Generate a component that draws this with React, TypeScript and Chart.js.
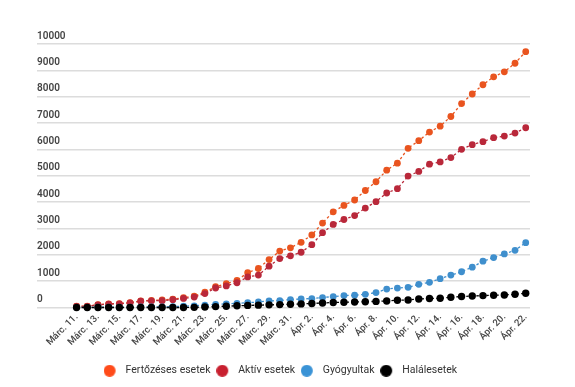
import React, { useEffect, useRef } from 'react';
import { Chart, registerables } from 'chart.js';

Chart.register(...registerables);

const dateLabels = [
  'Márc. 11.', 'Márc. 12.', 'Márc. 13.', 'Márc. 14.', 'Márc. 15.', 'Márc. 16.', 'Márc. 17.',
  'Márc. 18.', 'Márc. 19.', 'Márc. 20.', 'Márc. 21.', 'Márc. 22.', 'Márc. 23.', 'Márc. 24.',
  'Márc. 25.', 'Márc. 26.', 'Márc. 27.', 'Márc. 28.', 'Márc. 29.', 'Márc. 30.', 'Márc. 31.',
  'Ápr. 1.', 'Ápr. 2.', 'Ápr. 3.', 'Ápr. 4.', 'Ápr. 5.', 'Ápr. 6.', 'Ápr. 7.', 'Ápr. 8.',
  'Ápr. 9.', 'Ápr. 10.', 'Ápr. 11.', 'Ápr. 12.', 'Ápr. 13.', 'Ápr. 14.', 'Ápr. 15.',
  'Ápr. 16.', 'Ápr. 17.', 'Ápr. 18.', 'Ápr. 19.', 'Ápr. 20.', 'Ápr. 21.', 'Ápr. 22.',
];

const seriesNames = ['Fertőzéses esetek', 'Aktív esetek', 'Gyógyultak', 'Halálesetek'];

const fertozeses = [
  48, 50, 105, 140, 150, 185, 255, 270, 285, 320, 370, 435, 580, 790, 905,
  1030, 1319, 1481, 1820, 2140, 2265, 2475, 2755, 3205, 3630, 3875, 4080, 4440,
  4772, 5213, 5476, 6042, 6332, 6656, 6882, 7248, 7738, 8103, 8454, 8756, 8944, 9270, 9710,
];

const aktiv = [
  40, 42, 100, 130, 140, 175, 240, 255, 260, 295, 345, 395, 530, 740, 820,
  940, 1160, 1230, 1568, 1858, 1960, 2096, 2386, 2838, 3151, 3340, 3490, 3775,
  4018, 4346, 4510, 4986, 5163, 5439, 5525, 5691, 6004, 6181, 6294, 6445, 6505, 6618, 6822,
];

const gyogyultak = [
  6, 6, 9, 9, 9, 9, 19, 19, 25, 31, 52, 64, 90, 120, 140,
  160, 180, 211, 249, 264, 301, 324, 339, 377, 415, 452, 465, 500,
  565, 701, 739, 765, 878, 954, 1093, 1229, 1357, 1530, 1757, 1896, 2035, 2171, 2461,
];

const halalesetek = [
  0, 0, 0, 0, 0, 0, 0, 0, 0, 0, 0, 5, 20, 35, 50,
  65, 80, 90, 100, 110, 124, 136, 151, 173, 188, 200, 210, 220,
  232, 249, 275, 286, 324, 339, 350, 388, 415, 437, 452, 464, 475, 501, 539,
];

const yTicks = [0, 1000, 2000, 3000, 4000, 5000, 6000, 7000, 8000, 9000, 10000];

const lineColors = ['#e9541f', '#b9283a', '#3f8fcd', '#000000'];
const legendColors = ['#ff4b1a', '#c8202f', '#3a93d6', '#000000'];

function makeDot(color: string): HTMLCanvasElement {
  const c = document.createElement('canvas');
  c.width = 23;
  c.height = 12;
  const ctx = c.getContext('2d')!;
  ctx.fillStyle = color;
  ctx.beginPath();
  ctx.arc(6, 6, 6, 0, Math.PI * 2);
  ctx.fill();
  return c;
}

export default function App() {
  const ref = useRef<HTMLCanvasElement>(null);

  useEffect(() => {
    const allSeries = [fertozeses, aktiv, gyogyultak, halalesetek];
    const datasets = allSeries.map((vals, i) => ({
      label: seriesNames[i],
      data: vals.map((v, idx) => ({ x: idx, y: v })),
      borderColor: lineColors[i],
      backgroundColor: lineColors[i],
      pointBackgroundColor: lineColors[i],
      pointBorderWidth: 0,
      pointRadius: i === 3 ? 3.7 : 3.4,
      borderWidth: 1.3,
      borderDash: [2.5, 2.5],
      tension: 0,
      clip: false as const,
      order: 4 - i,
    }));

    const chart = new Chart(ref.current!, {
      type: 'line',
      data: { datasets },
      options: {
        animation: false,
        responsive: true,
        maintainAspectRatio: false,
        layout: { padding: { left: 37, right: 45, top: 44, bottom: 1 } },
        plugins: {
          tooltip: { enabled: false },
          legend: {
            position: 'bottom',
            labels: {
              usePointStyle: true,
              font: { family: 'Roboto', size: 10.5 },
              color: '#333',
              padding: 12,
              sort: (a: any, b: any) => a.datasetIndex - b.datasetIndex,
              generateLabels: (ch: any) => {
                const items = (Chart.defaults.plugins.legend.labels as any).generateLabels(ch);
                return items.map((it: any) => ({
                  ...it,
                  pointStyle: makeDot(legendColors[it.datasetIndex]),
                  lineWidth: 0,
                }));
              },
            },
          },
        },
        scales: {
          x: {
            type: 'linear',
            min: -3.7,
            max: 42.4,
            grid: { display: false, drawTicks: false },
            border: { display: false },
            afterFit: (s: any) => { s.height = 46; },
            ticks: {
              stepSize: 2,
              includeBounds: false,
              autoSkip: false,
              minRotation: 45,
              maxRotation: 45,
              padding: 4,
              color: '#444',
              font: { family: 'Roboto', size: 9.5, weight: 500 },
              callback: (value: any) => {
                const v = Number(value);
                return Number.isInteger(v) && v >= 0 && v < dateLabels.length ? dateLabels[v] : '';
              },
            },
          },
          y: {
            type: 'linear',
            min: yTicks[0],
            max: yTicks[yTicks.length - 1],
            afterFit: (s: any) => { s.width = 0; },
            afterBuildTicks: (s: any) => { s.ticks = yTicks.map((v) => ({ value: v })); },
            grid: { color: '#dcdcdc', lineWidth: 1.5, drawTicks: false },
            border: { display: false },
            ticks: {
              mirror: true,
              padding: 0,
              labelOffset: -8,
              color: '#444',
              font: { family: 'Roboto', size: 10, weight: 600 },
              callback: (value: any) => String(value),
            },
          },
        },
      },
    });
    return () => chart.destroy();
  }, []);

  return (
    <div style={{ position: 'absolute', left: 0, top: 0, width: 575, height: 387, background: '#fff' }}>
      <canvas ref={ref} />
    </div>
  );
}
